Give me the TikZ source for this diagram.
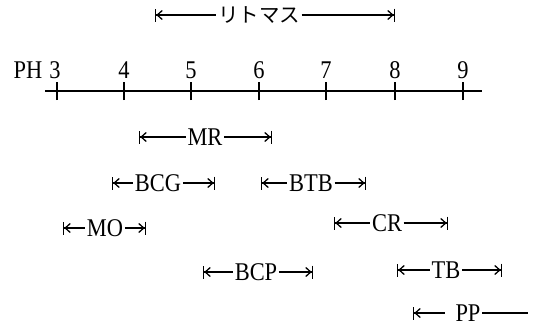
\documentclass[tikz,border=0pt]{standalone}
\usepackage{fontspec}
\setmainfont{Liberation Serif}
\newfontfamily\jafont{Noto Sans CJK JP}
\usetikzlibrary{arrows.meta}
\newcommand{\cnd}[1]{\scalebox{0.88}[1]{#1}}
\begin{document}
\begin{tikzpicture}[x=1pt,y=-1pt,
  lab/.style={inner xsep=1.5pt, inner ysep=0pt, text height=17pt, text depth=0pt, anchor=center, font=\fontsize{25.5}{27}\selectfont},
  num/.style={inner sep=0pt, font=\fontsize{25.5}{27}\selectfont},
  rangeL/.style={line width=1.3pt, {Bar[width=13pt,sep=0pt]Straight Barb[length=5pt,width=9pt,sep=0pt]}-},
  rangeR/.style={line width=1.3pt, -{Straight Barb[length=5pt,width=9pt,sep=0pt]Bar[width=13pt,sep=0pt]}},
  axis/.style={line width=1.3pt}
]
\useasboundingbox (0,0) rectangle (542,327);
% litmus
\coordinate (litL) at (155,15);
\coordinate (litR) at (395,15);
\node[lab, text height=15pt, font=\jafont\fontsize{20.5}{22}\selectfont] (lit) at (259,15) {リトマス};
\draw[rangeL] (litL) -- (lit.west);
\draw[rangeR] (lit.east) -- (litR);
% axis
\node[num] (ph) at (28,70) {\cnd{PH}};
\coordinate (axL) at (45,91);
\coordinate (axR) at (482,91);
\draw[axis] (axL) -- (axR);
\foreach \v/\x/\lx in {3/57/55,4/124/124,5/191/191,6/259/259,7/326/326,8/395/395,9/463/463} {
  \coordinate (t\v) at (\x,91);
  \draw[axis] ([yshift=-9pt]t\v) -- ([yshift=9pt]t\v);
  \node[num] (n\v) at (\lx,70) {\cnd{\v}};
}
% ranges
\foreach \n/\l/\c/\r/\y/\t in {mr/139/205/272/137/MR, bcg/112/158/215/183/BCG, btb/261/311/366/183/BTB, cr/334/387/448/223/CR, mo/63/105/146/228/MO, bcp/203/256/313/272/BCP, tb/397/446/502/270/TB} {
  \coordinate (\n L) at (\l,\y);
  \coordinate (\n R) at (\r,\y);
  \node[lab] (\n) at (\c,\y) {\cnd{\t}};
  \draw[rangeL] (\n L) -- (\n.west);
  \draw[rangeR] (\n.east) -- (\n R);
}
% PP
\coordinate (ppL) at (413,313);
\coordinate (ppR) at (528,313);
\node[lab] (pp) at (468,313) {\cnd{PP}};
\draw[rangeL] (ppL) -- ([xshift=-9pt]pp.west);
\draw[axis] (pp.east) -- (ppR);
\end{tikzpicture}
\end{document}
